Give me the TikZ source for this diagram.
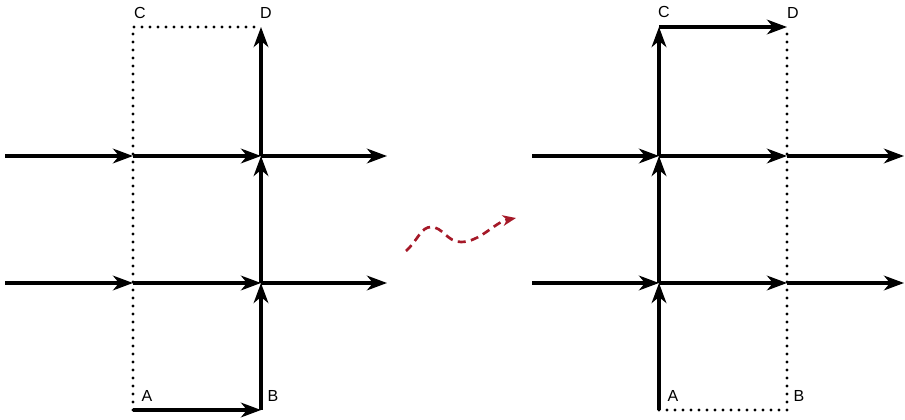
\documentclass[tikz,border=0pt]{standalone}
\usepackage{fontspec}
\setmainfont{Liberation Sans}
\usetikzlibrary{arrows.meta}
\definecolor{wavered}{RGB}{165,25,40}
\begin{document}
\begin{tikzpicture}[x=0.75pt,y=-0.75pt,
  arr/.style={line width=2.4pt,-{Stealth[length=15pt,width=11pt,inset=4.5pt]}},
  dotline/.style={line width=2.4pt,dash pattern=on 0pt off 6pt,line cap=round},
  lbl/.style={font=\fontsize{12}{14}\selectfont,inner sep=0pt},
  wave/.style={wavered,line width=2pt,dash pattern=on 6pt off 4pt,-{Stealth[length=10pt,width=8pt,inset=3pt]}}]
\useasboundingbox (0,0) rectangle (905,420);
% left coordinates
\coordinate (LA) at (133,410);
\coordinate (LB) at (261,410);
\coordinate (LC) at (133,27);
\coordinate (LD) at (261,27);
\coordinate (L1a) at (5,156);
\coordinate (L1b) at (133,156);
\coordinate (L1c) at (261,156);
\coordinate (L1d) at (387,156);
\coordinate (L2a) at (5,283);
\coordinate (L2b) at (133,283);
\coordinate (L2c) at (261,283);
\coordinate (L2d) at (387,283);
% right coordinates
\coordinate (RA) at (659,410);
\coordinate (RB) at (787,410);
\coordinate (RC) at (659,27);
\coordinate (RD) at (787,27);
\coordinate (R1a) at (532,156);
\coordinate (R1b) at (659,156);
\coordinate (R1c) at (787,156);
\coordinate (R1d) at (904,156);
\coordinate (R2a) at (532,283);
\coordinate (R2b) at (659,283);
\coordinate (R2c) at (787,283);
\coordinate (R2d) at (904,283);
% left dotted
\draw[dotline] (LA) -- (LC) -- (LD);
% left arrows
\draw[arr] (L1a) -- (L1b);
\draw[arr] (L1b) -- (L1c);
\draw[arr] (L1c) -- (L1d);
\draw[arr] (L2a) -- (L2b);
\draw[arr] (L2b) -- (L2c);
\draw[arr] (L2c) -- (L2d);
\draw[arr] (LA) -- (LB);
\draw[arr] (LB) -- (L2c);
\draw[arr] (L2c) -- (L1c);
\draw[arr] (L1c) -- (LD);
% right dotted
\draw[dotline] (RA) -- (RB) -- (RD);
% right arrows
\draw[arr] (R1a) -- (R1b);
\draw[arr] (R1b) -- (R1c);
\draw[arr] (R1c) -- (R1d);
\draw[arr] (R2a) -- (R2b);
\draw[arr] (R2b) -- (R2c);
\draw[arr] (R2c) -- (R2d);
\draw[arr] (RA) -- (R2b);
\draw[arr] (R2b) -- (R1b);
\draw[arr] (R1b) -- (RC);
\draw[arr] (RC) -- (RD);
% labels
\node[lbl] (tLC) at (140,13) {C};
\node[lbl] (tLD) at (266,13) {D};
\node[lbl] (tLA) at (147,396) {A};
\node[lbl] (tLB) at (273,396) {B};
\node[lbl] (tRC) at (664,12) {C};
\node[lbl] (tRD) at (793,13) {D};
\node[lbl] (tRA) at (673,396) {A};
\node[lbl] (tRB) at (799,396) {B};
% wave
\coordinate (ws) at (406,251);
\coordinate (we) at (516,218);
\draw[wave] (ws) .. controls (418,240) and (421,227) .. (431,227)
  .. controls (443,227) and (447,242) .. (461,242)
  .. controls (480,242) and (495,222) .. (we);
\end{tikzpicture}
\end{document}
